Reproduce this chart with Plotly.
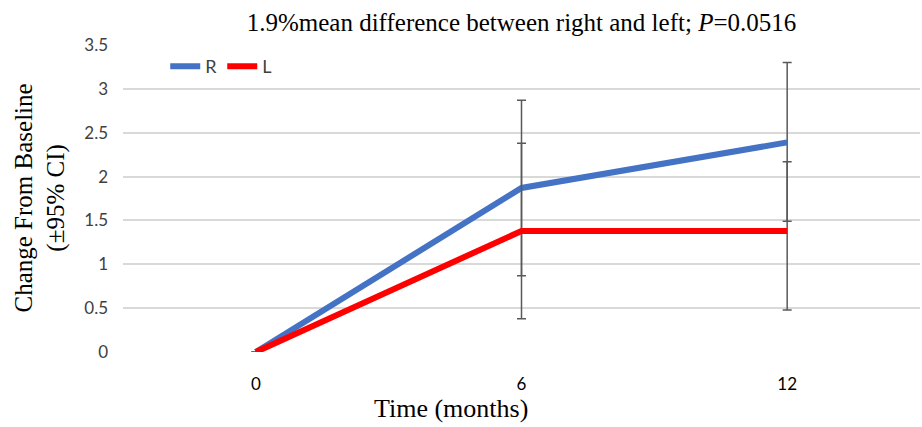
import plotly.graph_objects as go

months = ["0", "6", "12"]
r_vals = [0, 1.87, 2.39]
l_vals = [0, 1.38, 1.38]
r_err_plus = [0, 1.0, 0.91]
r_err_minus = [0, 1.0, 0.90]
l_err_plus = [0, 1.0, 0.79]
l_err_minus = [0, 1.0, 0.90]
y_ticks = [0, 0.5, 1, 1.5, 2, 2.5, 3, 3.5]
y_tick_text = ["0", "0.5", "1", "1.5", "2", "2.5", "3", "3.5"]

err_style = dict(type="data", symmetric=False, color="#595959", thickness=1.5, width=4.5)

fig = go.Figure()
fig.add_trace(go.Scatter(
    x=months, y=r_vals, mode="lines", name="R",
    line=dict(color="#4472C4", width=6),
    error_y=dict(array=r_err_plus, arrayminus=r_err_minus, **err_style),
))
fig.add_trace(go.Scatter(
    x=months, y=l_vals, mode="lines", name="L",
    line=dict(color="#FF0000", width=6),
    error_y=dict(array=l_err_plus, arrayminus=l_err_minus, **err_style),
))

fig.update_layout(
    width=922, height=427,
    margin=dict(l=123, r=2, t=45, b=75),
    plot_bgcolor="white", paper_bgcolor="white",
    font=dict(family="Lato", color="#595959", size=17),
    title=dict(
        text="1.9%mean difference between right and left; <i>P</i>=0.0516",
        font=dict(family="Liberation Serif", size=25, color="#000000"),
        x=(123 + 920) / 2 / 922, xanchor="center", y=1 - 22 / 427, yanchor="middle",
    ),
    legend=dict(
        orientation="h", x=0.053, y=0.93, xanchor="left", yanchor="middle",
        bgcolor="rgba(0,0,0,0)", font=dict(size=18, color="#404040"),
        tracegroupgap=0,
    ),
    xaxis=dict(
        type="category", range=[-0.5, 2.5], showgrid=False, showline=False,
        zeroline=False, ticks="", ticklabelstandoff=20,
        tickfont=dict(size=17, color="#000000"),
    ),
    yaxis=dict(
        range=[0, 3.5], tickvals=y_ticks, ticktext=y_tick_text,
        showgrid=True, gridcolor="#D9D9D9", gridwidth=1.5, zeroline=False,
        showline=False, ticks="", ticklabelstandoff=14,
        tickfont=dict(size=17, color="#404040"),
    ),
    showlegend=True,
)

fig.add_annotation(
    text="Change From Baseline<br>(±95% CI)", xref="paper", yref="paper",
    x=(40 - 123) / 797, y=0.5, xanchor="center", yanchor="middle", textangle=-90,
    showarrow=False, font=dict(family="Liberation Serif", size=25, color="#000000"),
)
fig.add_annotation(
    text="Time (months)", xref="paper", yref="paper",
    x=(451 - 123) / 797, y=-(408 - 352) / 307, xanchor="center", yanchor="middle",
    showarrow=False, font=dict(family="Liberation Serif", size=26, color="#000000"),
)

fig.write_html("out.html")
